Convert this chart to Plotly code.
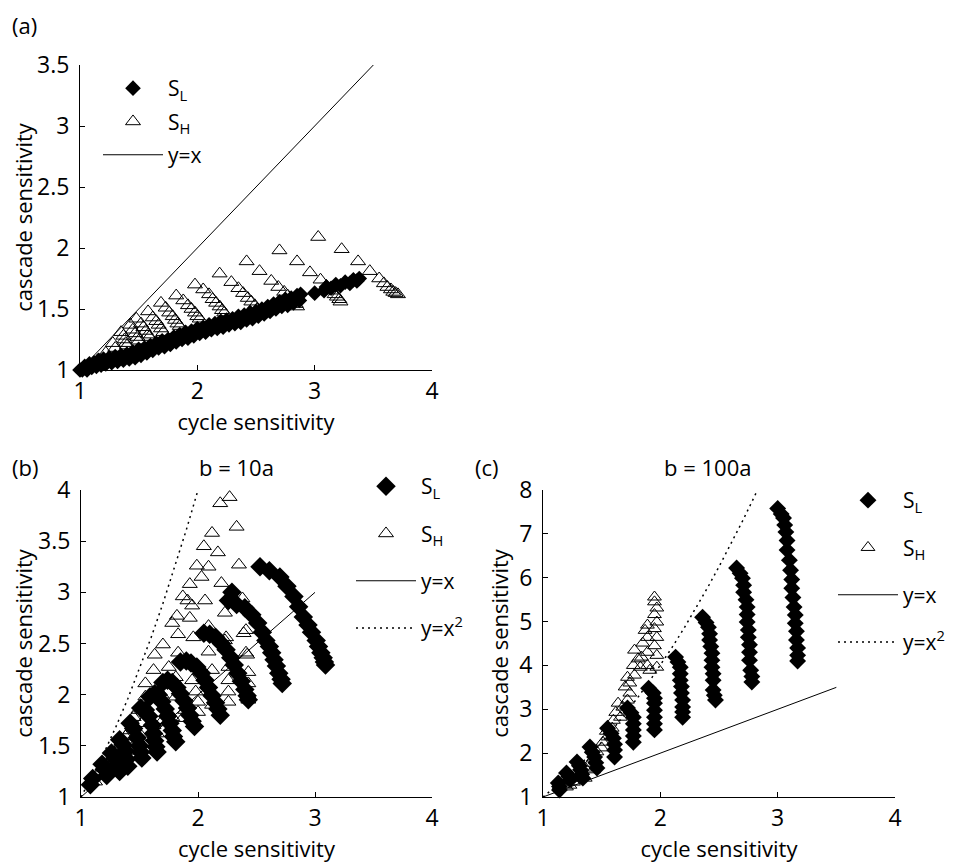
import plotly.graph_objects as go

# ---- data ---------------------------------------------------------------
# (a) cycle vs cascade sensitivity
a_sl = [
    (1.00, 1.00), (1.02, 1.00), (1.06, 1.00), (1.10, 1.02), (1.14, 1.03), (1.18, 1.04),
    (1.22, 1.05), (1.27, 1.06), (1.32, 1.07), (1.37, 1.08), (1.42, 1.09), (1.47, 1.10),
    (1.52, 1.12), (1.57, 1.14), (1.62, 1.16), (1.67, 1.18), (1.72, 1.19), (1.77, 1.21),
    (1.82, 1.23), (1.87, 1.25), (1.92, 1.26), (1.97, 1.28), (2.02, 1.30), (2.07, 1.31),
    (2.12, 1.33), (2.17, 1.34), (2.22, 1.35), (2.27, 1.37), (2.32, 1.38), (2.37, 1.39),
    (2.42, 1.41), (2.47, 1.42), (2.52, 1.44), (2.57, 1.46), (2.62, 1.48), (2.67, 1.50),
    (2.72, 1.52), (2.77, 1.53), (2.82, 1.55), (2.87, 1.57),
    (1.04, 1.03), (1.08, 1.05), (1.12, 1.06), (1.16, 1.08), (1.20, 1.09), (1.25, 1.10),
    (1.30, 1.11), (1.35, 1.12), (1.40, 1.13), (1.45, 1.15), (1.50, 1.17), (1.55, 1.18),
    (1.60, 1.20), (1.65, 1.22), (1.70, 1.24), (1.75, 1.25), (1.80, 1.27), (1.85, 1.29),
    (1.90, 1.31), (1.95, 1.32), (2.00, 1.34), (2.05, 1.35), (2.10, 1.37), (2.15, 1.38),
    (2.20, 1.40), (2.25, 1.41), (2.30, 1.42), (2.35, 1.44), (2.40, 1.45), (2.45, 1.47),
    (2.50, 1.48), (2.55, 1.50), (2.60, 1.52), (2.65, 1.54), (2.70, 1.56), (2.75, 1.58),
    (2.80, 1.59), (2.85, 1.61), (2.88, 1.62),
    (3.00, 1.63), (3.08, 1.65), (3.10, 1.68), (3.14, 1.67), (3.18, 1.70), (3.22, 1.69),
    (3.26, 1.72), (3.30, 1.71), (3.33, 1.74), (3.36, 1.73), (3.38, 1.75),
]
a_sh = [
    (1.15, 1.08), (1.22, 1.14), (1.28, 1.22), (1.30, 1.18),
    (1.35, 1.31), (1.37, 1.28), (1.38, 1.25), (1.39, 1.22), (1.40, 1.20),
    (1.43, 1.37), (1.45, 1.33), (1.47, 1.30), (1.49, 1.27), (1.50, 1.24),
    (1.48, 1.42), (1.52, 1.38), (1.54, 1.35), (1.56, 1.32), (1.58, 1.29), (1.59, 1.27),
    (1.58, 1.48), (1.62, 1.43), (1.65, 1.40), (1.67, 1.37), (1.69, 1.34), (1.71, 1.31),
    (1.69, 1.55), (1.73, 1.51), (1.76, 1.47), (1.79, 1.44), (1.81, 1.41), (1.83, 1.38), (1.85, 1.36),
    (1.82, 1.61), (1.88, 1.57), (1.92, 1.53), (1.95, 1.50), (1.98, 1.47), (2.00, 1.44), (2.02, 1.42),
    (1.98, 1.70), (2.05, 1.66), (2.10, 1.62), (2.13, 1.58), (2.16, 1.55), (2.19, 1.52),
    (2.21, 1.49), (2.23, 1.47),
    (2.19, 1.79), (2.29, 1.72), (2.35, 1.67), (2.39, 1.63), (2.43, 1.59), (2.46, 1.56),
    (2.49, 1.53), (2.51, 1.50), (2.53, 1.48),
    (2.42, 1.89), (2.53, 1.81), (2.63, 1.73), (2.69, 1.68), (2.74, 1.64), (2.77, 1.61),
    (2.80, 1.58), (2.82, 1.56), (2.84, 1.54), (2.85, 1.52),
    (2.70, 1.98), (2.85, 1.89), (2.96, 1.80), (3.05, 1.74), (3.10, 1.69), (3.14, 1.65),
    (3.17, 1.62), (3.19, 1.60), (3.21, 1.58), (3.22, 1.56),
    (3.03, 2.09), (3.23, 1.99), (3.37, 1.89), (3.47, 1.81), (3.55, 1.75), (3.59, 1.71),
    (3.62, 1.68), (3.65, 1.66), (3.67, 1.64), (3.69, 1.63), (3.71, 1.62),
]
a_diag_x = [1.0, 3.5]
a_diag_y = [1.0, 3.5]

# (b) b = 10a
b_sl = [
    (2.53, 3.25), (2.61, 3.21), (2.70, 3.15), (2.76, 3.06), (2.82, 2.96), (2.86, 2.86),
    (2.90, 2.76), (2.94, 2.68), (2.97, 2.61), (3.01, 2.53), (3.03, 2.47), (3.05, 2.41),
    (3.07, 2.36), (3.08, 2.32), (3.09, 2.29),
    (2.29, 3.00), (2.26, 2.92), (2.33, 2.88), (2.40, 2.85), (2.46, 2.78), (2.51, 2.70),
    (2.55, 2.61), (2.58, 2.53), (2.61, 2.47), (2.63, 2.41), (2.65, 2.34), (2.67, 2.28),
    (2.69, 2.21), (2.71, 2.15), (2.72, 2.11),
    (2.05, 2.60), (2.10, 2.59), (2.15, 2.56), (2.20, 2.50), (2.24, 2.44), (2.28, 2.36),
    (2.31, 2.29), (2.34, 2.21), (2.37, 2.13), (2.40, 2.05), (2.42, 1.99), (2.43, 1.95),
    (1.85, 2.32), (1.90, 2.33), (1.94, 2.31), (1.99, 2.27), (2.03, 2.21), (2.06, 2.14),
    (2.09, 2.07), (2.12, 1.99), (2.15, 1.92), (2.17, 1.86), (2.19, 1.80),
    (1.70, 2.12), (1.74, 2.14), (1.78, 2.12), (1.82, 2.07), (1.85, 2.01), (1.88, 1.94),
    (1.91, 1.87), (1.93, 1.80), (1.95, 1.74), (1.97, 1.69),
    (1.59, 1.98), (1.63, 2.01), (1.66, 2.00), (1.69, 1.93), (1.72, 1.86), (1.74, 1.79),
    (1.76, 1.72), (1.78, 1.65), (1.79, 1.59), (1.81, 1.54),
    (1.51, 1.87), (1.55, 1.85), (1.58, 1.79), (1.61, 1.70), (1.62, 1.62), (1.63, 1.55),
    (1.64, 1.49), (1.65, 1.44),
    (1.42, 1.72), (1.45, 1.67), (1.48, 1.58), (1.50, 1.50), (1.51, 1.44), (1.52, 1.38),
    (1.33, 1.56), (1.36, 1.51), (1.38, 1.45), (1.39, 1.37), (1.40, 1.30),
    (1.26, 1.43), (1.29, 1.38), (1.31, 1.32), (1.33, 1.25),
    (1.18, 1.32), (1.20, 1.27), (1.22, 1.21),
    (1.10, 1.18), (1.08, 1.12),
]
b_sh = [
    (2.27, 3.93), (2.19, 3.87), (2.33, 3.64), (2.12, 3.58), (2.05, 3.45), (2.17, 3.39),
    (1.99, 3.26), (2.09, 3.25), (2.35, 3.27), (2.03, 3.15), (1.93, 3.08), (2.20, 3.09),
    (1.87, 2.96), (1.91, 2.92), (2.06, 2.92), (1.95, 2.87), (2.38, 2.94), (2.23, 2.80),
    (1.82, 2.77), (1.93, 2.75), (1.78, 2.70), (2.09, 2.67), (2.41, 2.63), (1.83, 2.59),
    (1.96, 2.56), (2.24, 2.56), (2.41, 2.41), (2.23, 2.53), (1.70, 2.49), (2.39, 2.60),
    (1.83, 2.41), (2.09, 2.42), (1.63, 2.39), (2.42, 2.39), (1.75, 2.27), (1.92, 2.31),
    (2.12, 2.24), (2.26, 2.27), (2.43, 2.22), (1.62, 2.24), (1.81, 2.17), (1.95, 2.14),
    (2.26, 2.14), (2.43, 2.11), (1.55, 2.11), (1.98, 2.03), (2.11, 2.03), (2.26, 2.03),
    (2.43, 2.00), (1.69, 2.00), (1.81, 1.98), (2.00, 1.93), (2.12, 1.90), (2.26, 1.93),
    (2.43, 1.95), (1.89, 1.85), (2.00, 1.83), (1.78, 1.78), (1.87, 1.77), (1.55, 1.98),
    (1.49, 1.85), (1.52, 1.72), (1.45, 1.78), (1.42, 1.65), (1.52, 1.59), (1.38, 1.59),
    (1.62, 1.70), (1.70, 1.75), (1.65, 1.62), (1.40, 1.45), (1.45, 1.50), (1.35, 1.50),
    (1.30, 1.45), (1.28, 1.38), (1.25, 1.35), (1.20, 1.28), (1.15, 1.22), (1.12, 1.15),
]
b_diag_x = [1.0, 3.0]
b_diag_y = [1.0, 3.0]
b_sq_x = [1.0, 1.1, 1.2, 1.3, 1.4, 1.5, 1.6, 1.7, 1.8, 1.9, 2.0]
b_sq_y = [1.00, 1.21, 1.44, 1.69, 1.96, 2.25, 2.56, 2.89, 3.24, 3.61, 4.00]

# (c) b = 100a
c_sl = [
    (3.00, 7.58), (3.03, 7.45), (3.05, 7.36), (3.06, 7.20), (3.07, 7.04), (3.08, 6.85),
    (3.08, 6.63), (3.10, 6.40), (3.11, 6.17), (3.12, 5.96), (3.12, 5.76), (3.13, 5.55),
    (3.14, 5.33), (3.15, 5.15), (3.15, 4.96), (3.16, 4.78), (3.16, 4.58), (3.17, 4.40),
    (3.17, 4.23), (3.17, 4.10),
    (2.65, 6.22), (2.68, 6.10), (2.70, 5.99), (2.71, 5.83), (2.71, 5.67), (2.73, 5.50),
    (2.74, 5.33), (2.74, 5.16), (2.74, 4.99), (2.75, 4.81), (2.75, 4.64), (2.76, 4.47),
    (2.76, 4.30), (2.76, 4.12), (2.77, 3.89), (2.78, 3.75), (2.78, 3.62),
    (2.36, 5.10), (2.39, 4.98), (2.41, 4.87), (2.42, 4.72), (2.42, 4.58), (2.43, 4.43),
    (2.44, 4.28), (2.44, 4.12), (2.44, 3.96), (2.45, 3.81), (2.45, 3.66), (2.45, 3.44),
    (2.46, 3.32), (2.47, 3.21),
    (2.13, 4.19), (2.15, 4.08), (2.17, 3.96), (2.17, 3.81), (2.17, 3.66), (2.18, 3.52),
    (2.18, 3.37), (2.19, 3.21), (2.19, 3.05), (2.19, 2.94), (2.19, 2.82),
    (1.90, 3.48), (1.94, 3.37), (1.95, 3.25), (1.95, 3.14), (1.95, 2.98), (1.95, 2.82),
    (1.95, 2.67), (1.95, 2.53),
    (1.72, 3.03), (1.75, 2.92), (1.77, 2.82), (1.77, 2.67), (1.77, 2.53), (1.77, 2.39),
    (1.77, 2.25),
    (1.55, 2.57), (1.58, 2.45), (1.60, 2.34), (1.61, 2.20), (1.61, 2.07), (1.61, 1.91),
    (1.40, 2.14), (1.42, 2.02), (1.44, 1.91), (1.45, 1.78), (1.46, 1.66),
    (1.29, 1.80), (1.31, 1.71), (1.32, 1.62), (1.33, 1.52), (1.34, 1.43),
    (1.20, 1.55), (1.22, 1.47), (1.23, 1.39),
    (1.13, 1.32), (1.14, 1.24), (1.14, 1.16),
]
c_sh = [
    (1.95, 5.56), (1.95, 5.45), (1.97, 5.31), (1.95, 5.16), (1.97, 4.99), (1.95, 4.84),
    (1.97, 4.64), (1.95, 4.45), (1.97, 4.23), (1.97, 3.96), (1.89, 4.92), (1.87, 4.80),
    (1.89, 4.64), (1.85, 4.51), (1.89, 4.30), (1.84, 4.19), (1.89, 4.00), (1.91, 3.89),
    (1.78, 4.35), (1.81, 4.15), (1.77, 4.00), (1.83, 3.96), (1.78, 3.78), (1.74, 3.60),
    (1.72, 3.73), (1.70, 3.51), (1.74, 3.37), (1.72, 3.21), (1.68, 3.05), (1.64, 3.14),
    (1.62, 2.93), (1.66, 2.82), (1.60, 2.75), (1.59, 2.57), (1.54, 2.50), (1.55, 2.37),
    (1.51, 2.25), (1.50, 2.12), (1.46, 2.03), (1.43, 1.89), (1.40, 1.77), (1.43, 1.62),
    (1.36, 1.66), (1.33, 1.50), (1.36, 1.43), (1.29, 1.43), (1.26, 1.34), (1.23, 1.27),
    (1.20, 1.23),
]
c_diag_x = [1.0, 3.5]
c_diag_y = [1.0, 3.5]
c_sq_x = [1.0, 1.1, 1.2, 1.3, 1.4, 1.5, 1.6, 1.7, 1.8, 1.9, 2.0,
          2.1, 2.2, 2.3, 2.4, 2.5, 2.6, 2.7, 2.8, 2.828]
c_sq_y = [1.00, 1.21, 1.44, 1.69, 1.96, 2.25, 2.56, 2.89, 3.24, 3.61, 4.00,
          4.41, 4.84, 5.29, 5.76, 6.25, 6.76, 7.29, 7.84, 8.00]

x_ticks = [1, 2, 3, 4]
a_y_ticks = [1, 1.5, 2, 2.5, 3, 3.5]
b_y_ticks = [1, 1.5, 2, 2.5, 3, 3.5, 4]
c_y_ticks = [1, 2, 3, 4, 5, 6, 7, 8]

FONT = "Open Sans"
# the page body adds an 8px margin, so the figure is 8px smaller than the window
OFF = 8
W, H = 969 - OFF, 863 - OFF


def px(x):
    # window pixel -> paper fraction
    return (x - OFF) / W


def py(y):
    return 1 - (y - OFF) / H


fig = go.Figure()


def add_panel(xa, ya, leg, sl, sh, size_d, size_t, diag_x, diag_y, sq_x=None, sq_y=None):
    fig.add_trace(go.Scatter(
        x=[p[0] for p in sh], y=[p[1] for p in sh], mode="markers", name="S<sub>H</sub>",
        marker=dict(symbol="triangle-up-open", size=size_t, color="black", line=dict(width=1)),
        xaxis=xa, yaxis=ya, legend=leg, legendgroup=leg + "sh", legendrank=2,
        cliponaxis=False,
    ))
    fig.add_trace(go.Scatter(
        x=[p[0] for p in sl], y=[p[1] for p in sl], mode="markers", name="S<sub>L</sub>",
        marker=dict(symbol="diamond", size=size_d, color="black", line=dict(width=0)),
        xaxis=xa, yaxis=ya, legend=leg, legendgroup=leg + "sl", legendrank=1,
        cliponaxis=False,
    ))
    fig.add_trace(go.Scatter(
        x=diag_x, y=diag_y, mode="lines", name="y=x",
        line=dict(color="black", width=1),
        xaxis=xa, yaxis=ya, legend=leg, legendgroup=leg + "d", legendrank=3,
    ))
    if sq_x is not None:
        fig.add_trace(go.Scatter(
            x=sq_x, y=sq_y, mode="lines", name="y=x<sup>2</sup>",
            line=dict(color="black", width=1.5, dash="2px,4px"),
            xaxis=xa, yaxis=ya, legend=leg, legendgroup=leg + "q", legendrank=4,
        ))


add_panel("x", "y", "legend", a_sl, a_sh, 12, 13, a_diag_x, a_diag_y)
add_panel("x2", "y2", "legend2", b_sl, b_sh, 15, 13, b_diag_x, b_diag_y, b_sq_x, b_sq_y)
add_panel("x3", "y3", "legend3", c_sl, c_sh, 13, 12, c_diag_x, c_diag_y, c_sq_x, c_sq_y)

axis_common = dict(
    showline=True, linecolor="black", linewidth=1, mirror=False, automargin=False,
    showgrid=False, zeroline=False, ticks="inside", ticklen=5, tickcolor="black",
    tickfont=dict(family=FONT, size=23, color="black"),
)
xt = dict(tickvals=x_ticks, ticktext=[str(v) for v in x_ticks], range=[1, 4],
          title=dict(text="cycle sensitivity", font=dict(family=FONT, size=22, color="black"),
                     standoff=0))


def yt(ticks, rng):
    return dict(tickvals=ticks, ticktext=[f"{v:g}" for v in ticks], range=rng,
                ticklabelstandoff=5,
                title=dict(text="cascade sensitivity",
                           font=dict(family=FONT, size=22, color="black"), standoff=4))


legend_common = dict(
    bgcolor="rgba(0,0,0,0)", font=dict(family=FONT, size=21, color="black"),
    xanchor="left", yanchor="top", itemwidth=60, itemclick=False,
)

fig.update_layout(
    width=W, height=H,
    margin=dict(l=0, r=0, t=0, b=0),
    paper_bgcolor="white", plot_bgcolor="white",
    font=dict(family=FONT, size=21, color="black"),
    xaxis=dict(domain=[px(80), px(432)], anchor="y", **axis_common, **xt),
    yaxis=dict(domain=[py(370), py(65)], anchor="x", **axis_common, **yt(a_y_ticks, [1, 3.5])),
    xaxis2=dict(domain=[px(81), px(432)], anchor="y2", **axis_common, **xt),
    yaxis2=dict(domain=[py(797), py(490)], anchor="x2", **axis_common, **yt(b_y_ticks, [1, 4])),
    xaxis3=dict(domain=[px(543), px(895)], anchor="y3", **axis_common, **xt),
    yaxis3=dict(domain=[py(797), py(490)], anchor="x3", **axis_common, **yt(c_y_ticks, [1, 8])),
    legend=dict(x=px(98), y=py(68), tracegroupgap=3, **legend_common),
    legend2=dict(x=px(351), y=py(466), tracegroupgap=17, **legend_common),
    legend3=dict(x=px(833), y=py(480), tracegroupgap=17, **legend_common),
    showlegend=True,
)

ann_font = dict(family=FONT, size=22, color="black")
fig.add_annotation(text="(a)", x=px(10), y=1.0, xref="paper", yref="paper",
                   xanchor="left", yanchor="top", showarrow=False, font=ann_font)
fig.add_annotation(text="(b)", x=px(10), y=py(450), xref="paper", yref="paper",
                   xanchor="left", yanchor="top", showarrow=False, font=ann_font)
fig.add_annotation(text="(c)", x=px(473), y=py(450), xref="paper", yref="paper",
                   xanchor="left", yanchor="top", showarrow=False, font=ann_font)
fig.add_annotation(text="b = 10a", x=px(236), y=py(467), xref="paper", yref="paper",
                   xanchor="center", yanchor="middle", showarrow=False, font=ann_font)
fig.add_annotation(text="b = 100a", x=px(707), y=py(467), xref="paper", yref="paper",
                   xanchor="center", yanchor="middle", showarrow=False, font=ann_font)

fig.write_html("out.html")
